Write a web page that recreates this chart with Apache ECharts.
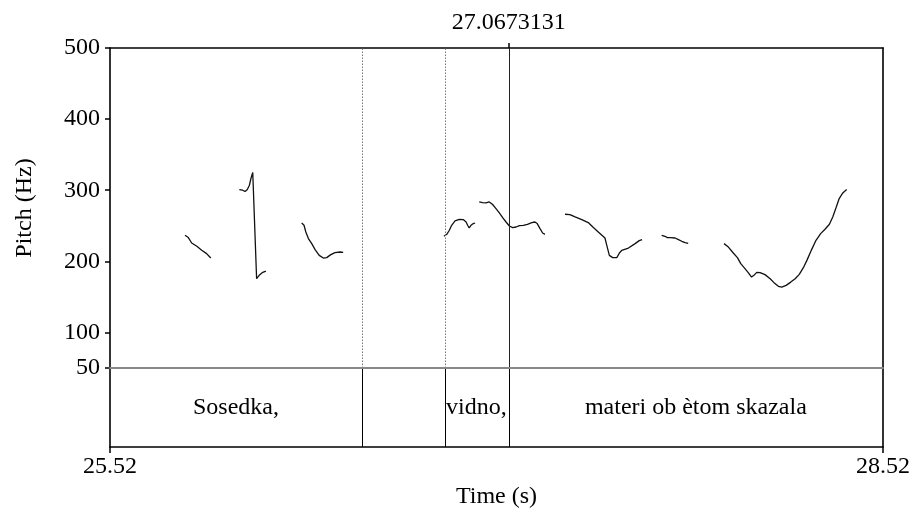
<!DOCTYPE html>
<html>
<head>
<meta charset="utf-8">
<script src="https://cdn.jsdelivr.net/npm/echarts@6/dist/echarts.min.js"></script>
<style>html,body{margin:0;padding:0;background:#fff;}#c{width:914px;height:510px;}</style>
</head>
<body>
<div id="c"></div>
<script>
// ---- data ----
const timeRange = [25.52, 28.52];
const pitchRange = [50, 500];
const pitchTicks = [50, 100, 200, 300, 400, 500];
const timeTicks = [25.52, 28.52];
const cursorTime = 27.0673131;
const cursorLabel = '27.0673131';
const boundaries = [26.498, 26.816, 27.0673131];
const dottedBoundaries = [26.498, 26.816];
const tierEdges = [25.52, 26.498, 26.816, 27.0673131, 28.52];
const tierTexts = ['Sosedka,', '', 'vidno,', 'materi ob ètom skazala'];

const seg1 = [[25.811,236.6],[25.824,233.4],[25.837,225.8],[25.857,221.1],[25.876,215.5],[25.895,210.8],[25.911,204.6]];
const seg2 = [[26.022,301.0],[26.035,300.0],[26.044,298.2],[26.053,301.0],[26.061,307.0],[26.067,316.5],[26.074,324.9],[26.089,175.6],[26.099,180.3],[26.113,184.5],[26.125,186.3]];
const seg3 = [[26.264,253.9],[26.273,250.7],[26.280,241.3],[26.290,232.0],[26.303,224.9],[26.316,216.5],[26.332,208.4],[26.348,204.6],[26.361,205.2],[26.377,209.4],[26.393,212.2],[26.413,213.1],[26.425,212.7]];
const seg4 = [[26.816,235.2],[26.827,238.0],[26.837,243.7],[26.846,250.7],[26.859,256.8],[26.876,259.1],[26.891,258.7],[26.902,255.3],[26.908,250.7],[26.914,246.9],[26.921,250.7],[26.930,253.1],[26.937,253.9]];
const seg5 = [[26.953,283.5],[26.966,282.7],[26.979,282.1],[26.992,283.5],[27.005,279.9],[27.018,274.2],[27.031,268.0],[27.044,261.5],[27.057,255.3],[27.070,249.7],[27.083,247.5],[27.096,248.3],[27.109,250.3],[27.124,250.7],[27.140,252.1],[27.157,254.5],[27.169,255.3],[27.178,253.1],[27.189,246.0],[27.199,239.8],[27.208,238.0]];
const seg6 = [[27.286,266.2],[27.305,265.8],[27.325,262.4],[27.351,258.7],[27.376,254.5],[27.396,247.5],[27.415,241.3],[27.441,232.8],[27.448,222.5],[27.458,208.4],[27.471,205.2],[27.487,205.2],[27.497,211.7],[27.506,215.5],[27.532,218.7],[27.558,224.9],[27.574,229.1],[27.585,230.6]];
const seg7 = [[27.661,236.6],[27.674,235.2],[27.683,233.4],[27.696,233.4],[27.713,232.8],[27.726,230.6],[27.739,228.2],[27.752,226.3],[27.764,225.3]];
const seg8 = [[27.903,224.9],[27.920,220.1],[27.939,211.7],[27.955,205.2],[27.968,196.7],[27.981,191.1],[27.997,184.1],[28.010,177.9],[28.019,180.3],[28.030,184.5],[28.043,184.1],[28.062,181.3],[28.082,175.6],[28.097,170.0],[28.114,164.8],[28.127,163.8],[28.144,166.2],[28.162,170.8],[28.179,175.6],[28.195,181.7],[28.211,191.1],[28.226,202.4],[28.243,216.5],[28.260,229.6],[28.278,239.0],[28.295,245.1],[28.312,252.1],[28.325,262.4],[28.338,275.6],[28.350,288.3],[28.364,296.2],[28.379,301.0]];
const segments = [seg1, seg2, seg3, seg4, seg5, seg6, seg7, seg8];

// ---- chart ----
const FONT = 'Liberation Serif';
const FS = 24;
const chart = echarts.init(document.getElementById('c'), null, {renderer: 'canvas'});
const black = '#000';
const boxW = 1.6;

const tierData = tierTexts.map((t, i) => [(tierEdges[i] + tierEdges[i + 1]) / 2, 0.5, t]);

const series = segments.map((s, i) => ({
  type: 'line', xAxisIndex: 0, yAxisIndex: 0, data: s, showSymbol: false, symbol: 'none',
  smooth: false, lineStyle: {color: '#111', width: 1.3}, silent: true, z: 3,
  markLine: i === 0 ? {
    silent: true, symbol: 'none', label: {show: false},
    data: dottedBoundaries.map(b => ({xAxis: b, lineStyle: {color: '#777', type: [1.5, 1.5], width: 1}}))
      .concat([{xAxis: cursorTime, lineStyle: {color: '#222', type: 'solid', width: 1}}])
  } : undefined
}));
series.push({
  type: 'scatter', xAxisIndex: 2, yAxisIndex: 2, data: tierData, symbolSize: 0, silent: true,
  itemStyle: {opacity: 1},
  label: {show: true, position: 'inside', formatter: p => p.data[2], color: black, opacity: 1,
          textBorderWidth: 0, fontFamily: FONT, fontSize: FS},
  markLine: {
    silent: true, symbol: 'none', label: {show: false},
    data: boundaries.map(b => ({xAxis: b, lineStyle: {color: black, type: 'solid', width: 1}}))
  }
});

chart.setOption({
  animation: false,
  backgroundColor: '#fff',
  textStyle: {fontFamily: FONT},
  grid: [
    {left: 110, top: 48, width: 773, height: 320, containLabel: false},
    {left: 110, top: 368, width: 773, height: 79, containLabel: false}
  ],
  xAxis: [
    {gridIndex: 0, type: 'value', min: timeRange[0], max: timeRange[1], position: 'bottom',
     axisLine: {show: true, onZero: false, lineStyle: {color: '#888', width: 2}},
     axisTick: {show: false}, axisLabel: {show: false}, splitLine: {show: false}, z: 5},
    {gridIndex: 0, type: 'value', min: timeRange[0], max: timeRange[1], position: 'top',
     axisLine: {show: true, onZero: false, lineStyle: {color: black, width: boxW}},
     axisTick: {show: true, customValues: [cursorTime], length: 5, lineStyle: {color: black, width: 1.5}},
     axisLabel: {show: true, customValues: [cursorTime], formatter: () => cursorLabel, margin: 13,
                 color: black, fontFamily: FONT, fontSize: FS},
     splitLine: {show: false}},
    {gridIndex: 1, type: 'value', min: timeRange[0], max: timeRange[1], position: 'bottom',
     name: 'Time (s)', nameLocation: 'middle', nameGap: 38,
     nameTextStyle: {color: black, fontFamily: FONT, fontSize: FS},
     axisLine: {show: true, onZero: false, lineStyle: {color: black, width: boxW}},
     axisTick: {show: true, customValues: timeTicks, length: 6, lineStyle: {color: black, width: 1.5}},
     axisLabel: {show: true, customValues: timeTicks, formatter: v => v.toFixed(2), margin: 8,
                 color: black, fontFamily: FONT, fontSize: FS, showMinLabel: true, showMaxLabel: true},
     splitLine: {show: false}}
  ],
  yAxis: [
    {gridIndex: 0, type: 'value', min: pitchRange[0], max: pitchRange[1], position: 'left',
     name: 'Pitch (Hz)', nameLocation: 'middle', nameGap: 73, nameRotate: 90,
     nameTextStyle: {color: black, fontFamily: FONT, fontSize: FS},
     axisLine: {show: true, onZero: false, lineStyle: {color: black, width: boxW}},
     axisTick: {show: true, customValues: pitchTicks, length: 5, lineStyle: {color: black, width: 1.5}},
     axisLabel: {show: true, customValues: pitchTicks, margin: 10, color: black, fontFamily: FONT, fontSize: FS,
                 showMinLabel: true, showMaxLabel: true},
     splitLine: {show: false}},
    {gridIndex: 0, type: 'value', min: pitchRange[0], max: pitchRange[1], position: 'right',
     axisLine: {show: true, onZero: false, lineStyle: {color: black, width: boxW}},
     axisTick: {show: false}, axisLabel: {show: false}, splitLine: {show: false}},
    {gridIndex: 1, type: 'value', min: 0, max: 1, position: 'left',
     axisLine: {show: true, onZero: false, lineStyle: {color: black, width: boxW}},
     axisTick: {show: false}, axisLabel: {show: false}, splitLine: {show: false}},
    {gridIndex: 1, type: 'value', min: 0, max: 1, position: 'right',
     axisLine: {show: true, onZero: false, lineStyle: {color: black, width: boxW}},
     axisTick: {show: false}, axisLabel: {show: false}, splitLine: {show: false}}
  ],
  series: series
});
</script>
</body>
</html>
